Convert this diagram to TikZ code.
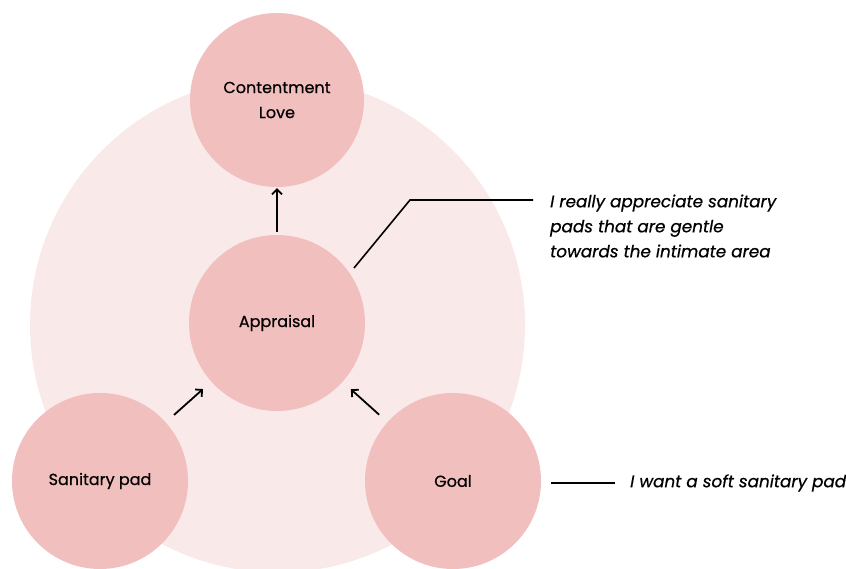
\documentclass[tikz,border=0pt]{standalone}
\usepackage{fontspec}
\setmainfont{Poppins}[FakeBold=0.6]
\usetikzlibrary{arrows.meta,calc}
\definecolor{halo}{HTML}{F9E9E9}
\definecolor{petal}{HTML}{F1BFBE}
\tikzset{
  bubble/.style={circle, fill=petal, minimum size=176pt, inner sep=0pt,
    align=center, font=\fontsize{16}{25}\selectfont},
  flow/.style={line width=1.8pt, -{Straight Barb[angle=90:7pt]}},
  leader/.style={line width=1.6pt},
  quote/.style={anchor=west, align=left, inner sep=0pt,
    font=\fontsize{16.8}{25}\selectfont\itshape}
}
\begin{document}
\begin{tikzpicture}[x=1pt,y=-1pt]
  \useasboundingbox (0,0) rectangle (846,569);
  \begin{scope}
    \clip (0,0) rectangle (846,569);
    \fill[halo] (277.5,325) circle (247.5);
  \end{scope}
  \node[bubble, minimum size=174pt] (love) at (277,100) {Contentment\\Love};
  \node[bubble] (appraisal) at (277,323) {Appraisal};
  \node[bubble] (pad) at (100,481) {Sanitary pad};
  \node[bubble] (goal) at (453,481) {Goal};

  \draw[flow, shorten <=3pt, shorten >=1pt] (appraisal) -- (love);
  \draw[flow, shorten <=11pt, shorten >=11pt] (pad) -- (appraisal);
  \draw[flow, shorten <=11pt, shorten >=11pt] (goal) -- (appraisal);

  \coordinate (foot) at (354,268);
  \coordinate (bend) at (410,200);
  \coordinate (tail) at (533,200);
  \draw[leader] (foot) -- (bend) -- (tail);
  \node[quote] (q1) at (550,226) {I really appreciate sanitary\\pads that are gentle\\towards the intimate area};

  \coordinate (g1) at (551,483);
  \coordinate (g2) at (615,483);
  \draw[leader] (g1) -- (g2);
  \node[quote] (q2) at (630,483) {I want a soft sanitary pad};
\end{tikzpicture}
\end{document}
